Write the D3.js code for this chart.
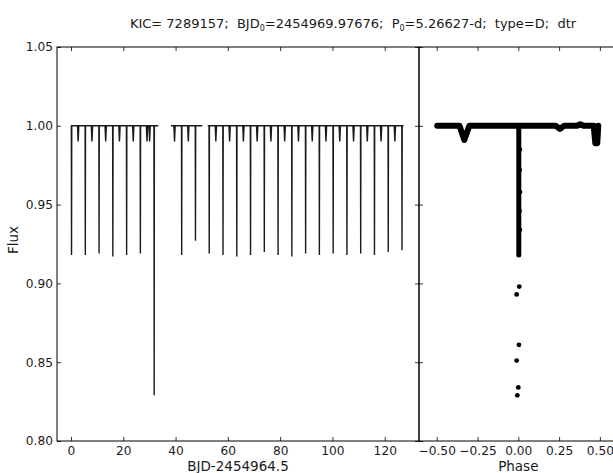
<!DOCTYPE html>
<html>
<head>
<meta charset="utf-8">
<script src="https://cdn.jsdelivr.net/npm/d3@7"></script>
<style>
  html, body { margin: 0; padding: 0; background: #fff; }
  svg text { font-family: "DejaVu Sans", sans-serif; fill: #1a1a1a; }
</style>
</head>
<body>
<svg id="chart" width="613" height="473"></svg>
<script>
// ---- data ----

// stretches of time with data (BJD-2454964.5)
const segments = [[0.1, 33.4], [38.2, 50.2], [52.3, 127.2]];

// primary eclipses: mid times and lowest flux
const primaryTimes = [0.21, 5.48, 10.74, 16.01, 21.28, 26.54, 31.81, 42.34, 47.61, 52.87,
  58.14, 63.41, 68.67, 73.94, 79.20, 84.47, 89.74, 95.00, 100.27, 105.54, 110.80, 116.07,
  121.34, 126.60];
const primaryDepths = [0.918, 0.918, 0.919, 0.917, 0.918, 0.919, 0.829, 0.918, 0.927, 0.919,
  0.918, 0.917, 0.918, 0.920, 0.918, 0.917, 0.919, 0.918, 0.919, 0.918, 0.919, 0.918,
  0.920, 0.921];

// shallow dips between the primaries (mostly one visible per cycle)
const secondaryTimes = [2.74, 8.01, 13.27, 18.54, 23.81, 29.07, 30.07, 39.60, 44.87,
  55.40, 60.67, 65.94, 71.20, 76.47, 81.73, 87.00, 92.27, 97.53, 102.80, 108.07,
  113.33, 118.60, 123.87];
const secondaryDepth = 0.990;

// folded curve (right panel): the thick band at flux 1
const bandPhase = [-0.497, -0.36, -0.331, -0.30, -0.01, 0.01, 0.23, 0.255, 0.28, 0.36, 0.38, 0.40, 0.462, 0.472, 0.484, 0.490];
const bandFlux  = [1.000, 1.000, 0.991, 1.000, 1.000, 1.000, 1.000, 0.998, 1.000, 1.000, 1.001, 1.000, 1.000, 0.989, 0.989, 1.000];

// folded curve: the eclipse column and the loose points below it
const columnPhase = [0.003, 0.003];
const columnFlux = [0.999, 0.918];
const columnBumpPhase = [0.010, 0.009, 0.011, 0.008, 0.010];
const columnBumpFlux = [0.985, 0.972, 0.958, 0.946, 0.934];
const outlierPhase = [0.006, -0.010, 0.004, -0.010, 0.000, -0.006];
const outlierFlux = [0.898, 0.893, 0.861, 0.851, 0.834, 0.829];

// ticks
const timeTicks = [0, 20, 40, 60, 80, 100, 120];
const phaseTicks = [-0.5, -0.25, 0, 0.25, 0.5];
const fluxTicks = [0.80, 0.85, 0.90, 0.95, 1.00, 1.05];

// ---- layout ----
const svg = d3.select("#chart");
const plotTop = 47, plotBottom = 441;
const leftX0 = 57, leftX1 = 419;
const rightX0 = 419, rightX1 = 618;

const xTime = d3.scaleLinear().domain([-5.35, 133.1]).range([leftX0, leftX1]);
const xPhase = d3.scaleLinear().domain([-0.6085, 0.611]).range([rightX0, rightX1]);
const yFlux = d3.scaleLinear().domain([0.80, 1.05]).range([plotBottom, plotTop]);

const fmt2 = d3.format(".2f");
const tickFont = 12.2, labelFont = 13.5;

//---- left panel: light curve ----
const leftPanel = svg.append("g");

const line = d3.line().x(d => xTime(d[0])).y(d => yFlux(d[1]));

segments.forEach(([start, end]) => {
  //collect the dips that fall inside this stretch
  const dips = [];
  primaryTimes.forEach((t, i) => {
    if (t > start && t < end) dips.push({ t: t, f: primaryDepths[i], w: 0.08 });
  });
  secondaryTimes.forEach(t => {
    if (t > start && t < end) dips.push({ t: t, f: secondaryDepth, w: 0.25 });
  });
  dips.sort((a, b) => a.t - b.t);

  const pts = [[start, 1.0]];
  dips.forEach(d => {
    pts.push([d.t - d.w, 1.0], [d.t, d.f], [d.t + d.w, 1.0]);
  });
  pts.push([end, 1.0]);

  leftPanel.append("path")
    .attr("d", line(pts))
    .attr("fill", "none")
    .attr("stroke", "#1a1a1a")
    .attr("stroke-width", 1.4)
    .attr("stroke-linejoin", "miter");
});

//---- right panel: phase folded ----
const rightPanel = svg.append("g");
const phaseLine = d3.line().x(d => xPhase(d[0])).y(d => yFlux(d[1]));

rightPanel.append("path")
  .attr("d", phaseLine(bandPhase.map((p, i) => [p, bandFlux[i]])))
  .attr("fill", "none")
  .attr("stroke", "#000")
  .attr("stroke-width", 6)
  .attr("stroke-linecap", "round")
  .attr("stroke-linejoin", "round");

rightPanel.append("path")
  .attr("d", phaseLine(columnPhase.map((p, i) => [p, columnFlux[i]])))
  .attr("fill", "none")
  .attr("stroke", "#000")
  .attr("stroke-width", 5)
  .attr("stroke-linecap", "round");

rightPanel.selectAll("circle.bump")
  .data(columnBumpPhase.map((p, i) => [p, columnBumpFlux[i]]))
  .enter().append("circle")
  .attr("class", "bump")
  .attr("cx", d => xPhase(d[0]))
  .attr("cy", d => yFlux(d[1]))
  .attr("r", 2.3)
  .attr("fill", "#000");

rightPanel.selectAll("circle.outlier")
  .data(outlierPhase.map((p, i) => [p, outlierFlux[i]]))
  .enter().append("circle")
  .attr("class", "outlier")
  .attr("cx", d => xPhase(d[0]))
  .attr("cy", d => yFlux(d[1]))
  .attr("r", 2.4)
  .attr("fill", "#000");

//---- axes, ticks pointing inwards like matplotlib ----
function styleAxis(g) {
  g.select(".domain").remove();
  g.selectAll(".tick line").attr("stroke", "#000").attr("stroke-width", 0.8);
  g.selectAll(".tick text").attr("font-size", tickFont).style("font-family", "DejaVu Sans, sans-serif");
}

svg.append("g")
  .attr("transform", `translate(0,${plotBottom})`)
  .call(d3.axisBottom(xTime).tickValues(timeTicks).tickFormat(d3.format("d")).tickSizeInner(-4).tickSizeOuter(0).tickPadding(5))
  .call(styleAxis);
svg.append("g")
  .attr("transform", `translate(0,${plotTop})`)
  .call(d3.axisTop(xTime).tickValues(timeTicks).tickFormat("").tickSizeInner(-4).tickSizeOuter(0))
  .call(styleAxis);
svg.append("g")
  .attr("transform", `translate(${leftX0},0)`)
  .call(d3.axisLeft(yFlux).tickValues(fluxTicks).tickFormat(fmt2).tickSizeInner(-4).tickSizeOuter(0).tickPadding(4))
  .call(styleAxis);
svg.append("g")
  .attr("transform", `translate(${leftX1},0)`)
  .call(d3.axisRight(yFlux).tickValues(fluxTicks).tickFormat("").tickSizeInner(-4).tickSizeOuter(0))
  .call(styleAxis);

svg.append("g")
  .attr("transform", `translate(0,${plotBottom})`)
  .call(d3.axisBottom(xPhase).tickValues(phaseTicks).tickFormat(fmt2).tickSizeInner(-4).tickSizeOuter(0).tickPadding(5))
  .call(styleAxis);
svg.append("g")
  .attr("transform", `translate(0,${plotTop})`)
  .call(d3.axisTop(xPhase).tickValues(phaseTicks).tickFormat("").tickSizeInner(-4).tickSizeOuter(0))
  .call(styleAxis);
svg.append("g")
  .attr("transform", `translate(${rightX0},0)`)
  .call(d3.axisLeft(yFlux).tickValues(fluxTicks).tickFormat("").tickSizeInner(-4).tickSizeOuter(0))
  .call(styleAxis);

//frames
svg.append("rect")
  .attr("x", leftX0).attr("y", plotTop)
  .attr("width", leftX1 - leftX0).attr("height", plotBottom - plotTop)
  .attr("fill", "none").attr("stroke", "#000").attr("stroke-width", 1);
svg.append("rect")
  .attr("x", rightX0).attr("y", plotTop)
  .attr("width", rightX1 - rightX0).attr("height", plotBottom - plotTop)
  .attr("fill", "none").attr("stroke", "#000").attr("stroke-width", 1);

//---- labels ----
svg.append("text")
  .attr("x", (leftX0 + leftX1) / 2).attr("y", 471)
  .attr("text-anchor", "middle").attr("font-size", labelFont)
  .text("BJD-2454964.5");
svg.append("text")
  .attr("x", xPhase(0)).attr("y", 471)
  .attr("text-anchor", "middle").attr("font-size", labelFont)
  .text("Phase");
svg.append("text")
  .attr("transform", `translate(18,${(plotTop + plotBottom) / 2 - 4}) rotate(-90)`)
  .attr("text-anchor", "middle").attr("font-size", labelFont)
  .text("Flux");

//title with subscripts, double spaces kept
const title = svg.append("text")
  .attr("x", 353).attr("y", 28)
  .attr("text-anchor", "middle").attr("font-size", 13)
  .style("white-space", "pre")
  .attr("xml:space", "preserve");
title.append("tspan").text("KIC= 7289157;  BJD");
title.append("tspan").attr("font-size", 8).attr("dy", 3).text("0");
title.append("tspan").attr("dy", -3).text("=2454969.97676;  P");
title.append("tspan").attr("font-size", 8).attr("dy", 3).text("0");
title.append("tspan").attr("dy", -3).text("=5.26627-d;  type=D;  dtr");
</script>
</body>
</html>
